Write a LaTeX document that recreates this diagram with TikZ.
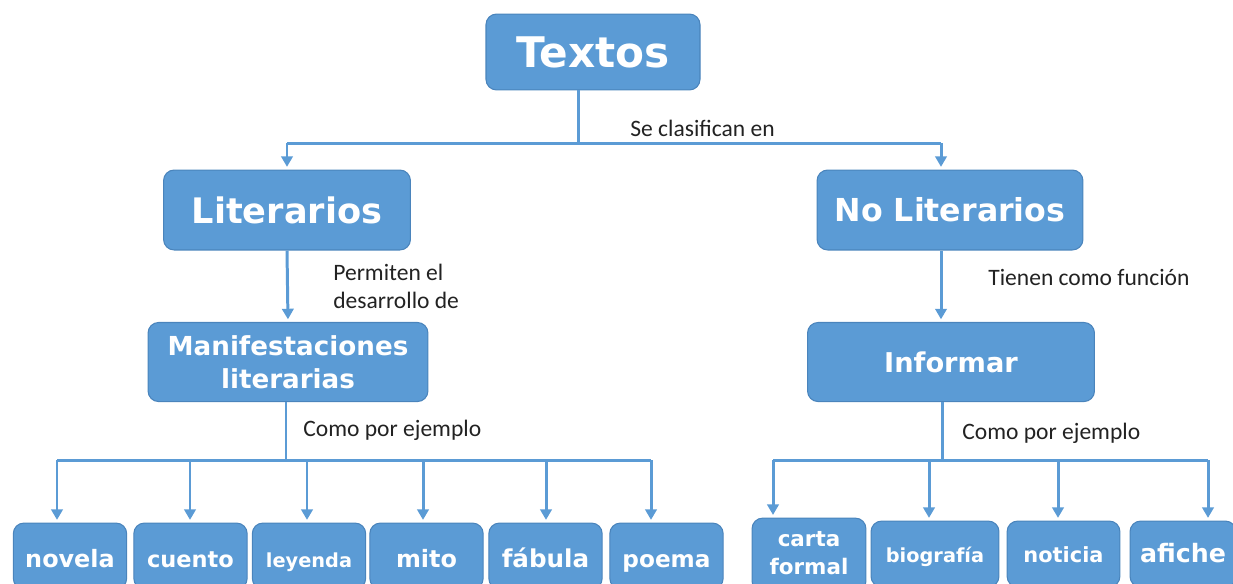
\documentclass[tikz,border=0pt]{standalone}
\usepackage{fontspec}
\setmainfont{Carlito}
\newfontfamily\cajafont{DejaVu Sans}
\usetikzlibrary{arrows.meta}
\definecolor{azul}{HTML}{5B9BD5}
\definecolor{azulborde}{HTML}{4A84BC}
\definecolor{tinta}{HTML}{222222}

\tikzset{
    caja/.style={draw=azulborde, fill=azul, line width=0.6pt, rounded corners=6pt,
        text=white, font=\cajafont\bfseries, align=center, inner sep=0pt},
    linea/.style={draw=azul, line width=1.7pt},
    flecha/.style={linea, -{Triangle[width=6.5pt,length=6pt]}, shorten >=1.5pt},
    etiqueta/.style={text=tinta, anchor=west, align=left, inner sep=0pt,
        font=\fontsize{13.4}{16}\selectfont}
}

\begin{document}
\begin{tikzpicture}[x=0.02cm, y=-0.02cm]
    \useasboundingbox (0, 0) rectangle (1233, 583);
    \clip (0, 0) rectangle (1233, 583);

    % top
    \node[caja, minimum width=121.8pt, minimum height=43.2pt, font=\cajafont\bfseries\fontsize{24}{28}\selectfont] (textos) at (593, 52) {Textos};
    \node[caja, minimum width=140.5pt, minimum height=45.5pt, font=\cajafont\bfseries\fontsize{20}{24}\selectfont] (lit) at (287, 210) {Literarios};
    \node[caja, minimum width=151.3pt, minimum height=45.5pt, font=\cajafont\bfseries\fontsize{18}{22}\selectfont] (nolit) at (950, 210) {No Literarios};

    \coordinate (clasif) at (578, 143);
    \coordinate (eje) at (941, 0);
    \draw[linea] (textos.south -| clasif) -- (clasif);
    \draw[linea] (lit.north |- clasif) -- (eje |- clasif);
    \draw[flecha] (lit.north |- clasif) -- (lit.north);
    \draw[flecha] (eje |- clasif) -- (eje |- nolit.north);
    \node[etiqueta] (seclas) at (630, 128) {Se clasifican en};

    % middle
    \node[caja, minimum width=159.3pt, minimum height=45pt, font=\cajafont\bfseries\fontsize{14.9}{18.5}\selectfont] (manif) at (288, 362) {Manifestaciones\\literarias};
    \node[caja, minimum width=163.3pt, minimum height=45pt, font=\cajafont\bfseries\fontsize{15.5}{18}\selectfont] (inform) at (951, 362) {Informar};

    \draw[flecha] (lit.south) -- (manif.north);
    \draw[flecha] (eje |- nolit.south) -- (eje |- inform.north);
    \node[etiqueta] (permiten) at (333, 286) {Permiten el\\desarrollo de};
    \node[etiqueta] (tienen) at (988, 277) {Tienen como función};

    % left
    \foreach \n / \x / \t / \s in {novela/70/novela/13.6, cuento/190.5/cuento/12.8, leyenda/309/leyenda/11, mito/426.5/mito/13.6, fabula/545.5/fábula/14, poema/666.5/poema/13.2}
        \node[caja, minimum width=64.5pt, minimum height=37.5pt, text height=13.6pt, text depth=1pt, font=\cajafont\bfseries\fontsize{\s}{16}\selectfont] (\n) at (\x, 556) {\t};

    \coordinate (ejizq) at (286, 460);
    \draw[linea] (manif.south -| ejizq) -- (ejizq);
    \draw[linea] (57, 460) -- (651, 460);
    \foreach \n / \x in {novela/57, cuento/190, leyenda/307, mito/423, fabula/546, poema/651}
        \draw[flecha] (\x, 460) -- (\n.north -| \x, 0);
    \node[etiqueta] (ejemploizq) at (303, 430) {Como por ejemplo};

    % right
    \node[caja, minimum width=64.8pt, minimum height=42pt, font=\cajafont\bfseries\fontsize{12.2}{16}\selectfont] (carta) at (809, 555) {\strut carta\\\strut formal};
    \foreach \n / \x / \w / \t / \s in {biografia/935/72.8/biografía/11, noticia/1063.5/64.2/noticia/11.9, afiche/1183/60.3/afiche/14.4}
        \node[caja, minimum width=\w pt, minimum height=37.5pt, text height=11.2pt, text depth=1pt, font=\cajafont\bfseries\fontsize{\s}{16}\selectfont] (\n) at (\x, 554) {\t};

    \coordinate (ejder) at (942, 460);
    \draw[linea] (inform.south -| ejder) -- (ejder);
    \draw[linea] (773, 460) -- (1208, 460);
    \foreach \n / \x in {carta/773, biografia/929, noticia/1058, afiche/1208}
        \draw[flecha] (\x, 460) -- (\n.north -| \x, 0);
    \node[etiqueta] (ejemploder) at (962, 433) {Como por ejemplo};

\end{tikzpicture}
\end{document}
